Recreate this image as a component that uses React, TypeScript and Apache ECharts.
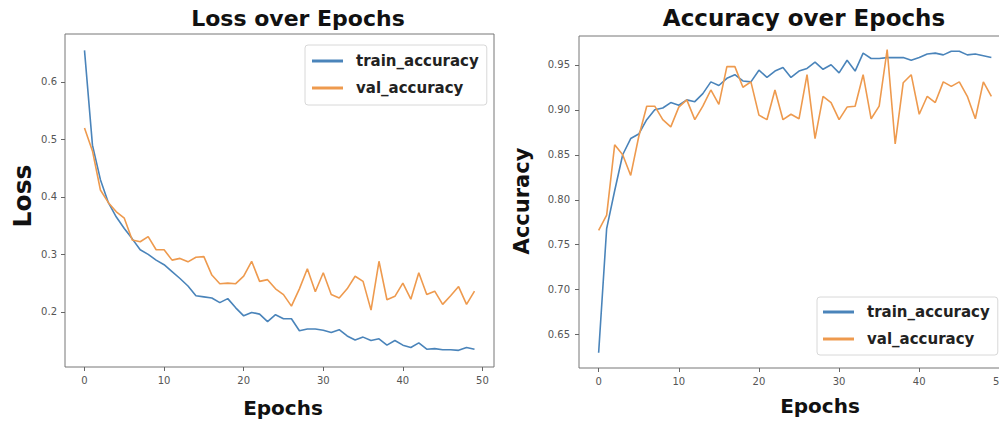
import React, { useEffect, useRef } from "react";
import * as echarts from "echarts";

const trainLoss = [
  0.655, 0.49, 0.43, 0.39, 0.365, 0.345, 0.327, 0.308, 0.3, 0.29,
  0.282, 0.27, 0.258, 0.245, 0.228, 0.226, 0.224, 0.216, 0.223, 0.207,
  0.193, 0.199, 0.196, 0.183, 0.195, 0.188, 0.188, 0.167, 0.17, 0.17,
  0.168, 0.164, 0.169, 0.158, 0.151, 0.156, 0.15, 0.153, 0.142, 0.15,
  0.142, 0.138, 0.146, 0.135, 0.136, 0.134, 0.134, 0.133, 0.138, 0.135,
];
const valLoss = [
  0.52, 0.48, 0.412, 0.39, 0.374, 0.363, 0.325, 0.322, 0.331, 0.308,
  0.308, 0.29, 0.293, 0.287, 0.295, 0.296, 0.264, 0.249, 0.25, 0.249,
  0.262, 0.288, 0.253, 0.256, 0.24, 0.23, 0.21, 0.24, 0.275, 0.235,
  0.268, 0.23, 0.224, 0.24, 0.262, 0.253, 0.203, 0.288, 0.221, 0.227,
  0.25, 0.222, 0.268, 0.23, 0.236, 0.213, 0.228, 0.244, 0.213, 0.236,
];
const trainAcc = [
  0.63, 0.768, 0.81, 0.85, 0.868, 0.873, 0.889, 0.9, 0.902, 0.908,
  0.905, 0.911, 0.909, 0.918, 0.931, 0.927, 0.935, 0.939, 0.932, 0.931,
  0.944, 0.936, 0.943, 0.947, 0.936, 0.943, 0.946, 0.953, 0.945, 0.95,
  0.941, 0.955, 0.943, 0.963, 0.957, 0.957, 0.958, 0.958, 0.958, 0.955,
  0.958, 0.962, 0.963, 0.961, 0.965, 0.965, 0.961, 0.962, 0.96, 0.958,
];
const valAcc = [
  0.766, 0.783, 0.861, 0.85, 0.827, 0.87, 0.904, 0.904, 0.889, 0.881,
  0.903, 0.911, 0.889, 0.904, 0.922, 0.906, 0.948, 0.948, 0.925, 0.931,
  0.894, 0.889, 0.922, 0.889, 0.895, 0.89, 0.939, 0.868, 0.915, 0.908,
  0.889, 0.903, 0.904, 0.939, 0.89, 0.904, 0.967, 0.862, 0.93, 0.939,
  0.895, 0.915, 0.908, 0.931, 0.926, 0.931, 0.915, 0.89, 0.931, 0.915,
];
const epochs = trainLoss.map((_, i) => i);
const xTicks = [0, 10, 20, 30, 40, 50];
const lossTicks = [0.2, 0.3, 0.4, 0.5, 0.6];
const accTicks = [0.65, 0.7, 0.75, 0.8, 0.85, 0.9, 0.95];
const seriesNames = ["train_accuracy", "val_accuracy"];

const BLUE = "#4a84ba";
const ORANGE = "#ee9a4e";
const FONT = "DejaVu Sans";

function pairs(vals: number[]) {
  return epochs.map((e, i) => [e, vals[i]]);
}

export default function App() {
  const ref = useRef<HTMLDivElement>(null);
  useEffect(() => {
    if (!ref.current) return;
    const chart = echarts.init(ref.current, undefined, { renderer: "svg" });
    const labelStyle = { color: "#555", fontSize: 10, fontFamily: FONT };
    const tick = { show: true, length: 4, lineStyle: { color: "#666", width: 1 } };
    const xAxisBase = (gridIndex: number) => ({
      type: "value",
      gridIndex,
      min: -2.45,
      max: 51.45,
      splitLine: { show: false },
      axisLine: { show: false, onZero: false },
      axisTick: { ...tick, customValues: xTicks },
      axisLabel: { ...labelStyle, margin: 8, customValues: xTicks, formatter: (v: number) => String(v) },
    });
    const legendBase = {
      orient: "vertical",
      data: seriesNames,
      icon: "rect",
      itemWidth: 31,
      itemHeight: 3,
      itemGap: 12,
      borderColor: "#d8d8d8",
      borderWidth: 1,
      borderRadius: 3,
      backgroundColor: "rgba(255,255,255,0.85)",
      textStyle: { fontFamily: FONT, fontWeight: "bold", fontSize: 15, color: "#222", padding: [0, 0, 0, 8] },
    };
    const lineSeries = (name: string, vals: number[], color: string, idx: number) => ({
      type: "line",
      name,
      xAxisIndex: idx,
      yAxisIndex: idx,
      data: pairs(vals),
      showSymbol: false,
      symbol: "none",
      lineStyle: { color, width: 1.6 },
      itemStyle: { color },
      z: 3,
    });
    chart.setOption({
      animation: false,
      backgroundColor: "#ffffff",
      grid: [
        { left: 65, top: 34, width: 429, height: 333, show: true, borderColor: "#777", borderWidth: 1, backgroundColor: "transparent", outerBoundsMode: "none", containLabel: false },
        { left: 579, top: 36, width: 432, height: 332, show: true, borderColor: "#777", borderWidth: 1, backgroundColor: "transparent", outerBoundsMode: "none", containLabel: false },
      ],
      xAxis: [xAxisBase(0), xAxisBase(1)],
      yAxis: [
        {
          type: "value",
          gridIndex: 0,
          min: 0.104,
          max: 0.6835,
          splitLine: { show: false },
          axisLine: { show: false, onZero: false },
          axisTick: { ...tick, customValues: lossTicks },
          axisLabel: { ...labelStyle, margin: 8, customValues: lossTicks, formatter: (v: number) => v.toFixed(1) },
        },
        {
          type: "value",
          gridIndex: 1,
          min: 0.613,
          max: 0.982,
          splitLine: { show: false },
          axisLine: { show: false, onZero: false },
          axisTick: { ...tick, customValues: accTicks },
          axisLabel: { ...labelStyle, margin: 9, customValues: accTicks, formatter: (v: number) => v.toFixed(2) },
        },
      ],
      legend: [
        { ...legendBase, left: 305, top: 45, padding: [8.5, 8, 9.5, 7] },
        { ...legendBase, left: 817, top: 297, padding: [7.5, 8, 8.5, 6] },
      ],
      graphic: [
        { type: "text", x: 298, y: 18, style: { text: "Loss over Epochs", font: `bold 22px '${FONT}'`, fill: "#111", align: "center", verticalAlign: "middle" } },
        { type: "text", x: 804, y: 18, style: { text: "Accuracy over Epochs", font: `bold 23px '${FONT}'`, fill: "#111", align: "center", verticalAlign: "middle" } },
        { type: "text", x: 22, y: 196, rotation: Math.PI / 2, style: { text: "Loss", font: `bold 25px '${FONT}'`, fill: "#111", align: "center", verticalAlign: "middle" } },
        { type: "text", x: 522, y: 201, rotation: Math.PI / 2, style: { text: "Accuracy", font: `bold 21px '${FONT}'`, fill: "#111", align: "center", verticalAlign: "middle" } },
        { type: "text", x: 283, y: 408, style: { text: "Epochs", font: `bold 20px '${FONT}'`, fill: "#111", align: "center", verticalAlign: "middle" } },
        { type: "text", x: 820, y: 406, style: { text: "Epochs", font: `bold 20px '${FONT}'`, fill: "#111", align: "center", verticalAlign: "middle" } },
      ],
      series: [
        lineSeries(seriesNames[0], trainLoss, BLUE, 0),
        lineSeries(seriesNames[1], valLoss, ORANGE, 0),
        lineSeries(seriesNames[0], trainAcc, BLUE, 1),
        lineSeries(seriesNames[1], valAcc, ORANGE, 1),
      ],
    });
    return () => chart.dispose();
  }, []);
  return <div ref={ref} style={{ position: "absolute", left: 0, top: 0, width: 999, height: 423 }} />;
}
